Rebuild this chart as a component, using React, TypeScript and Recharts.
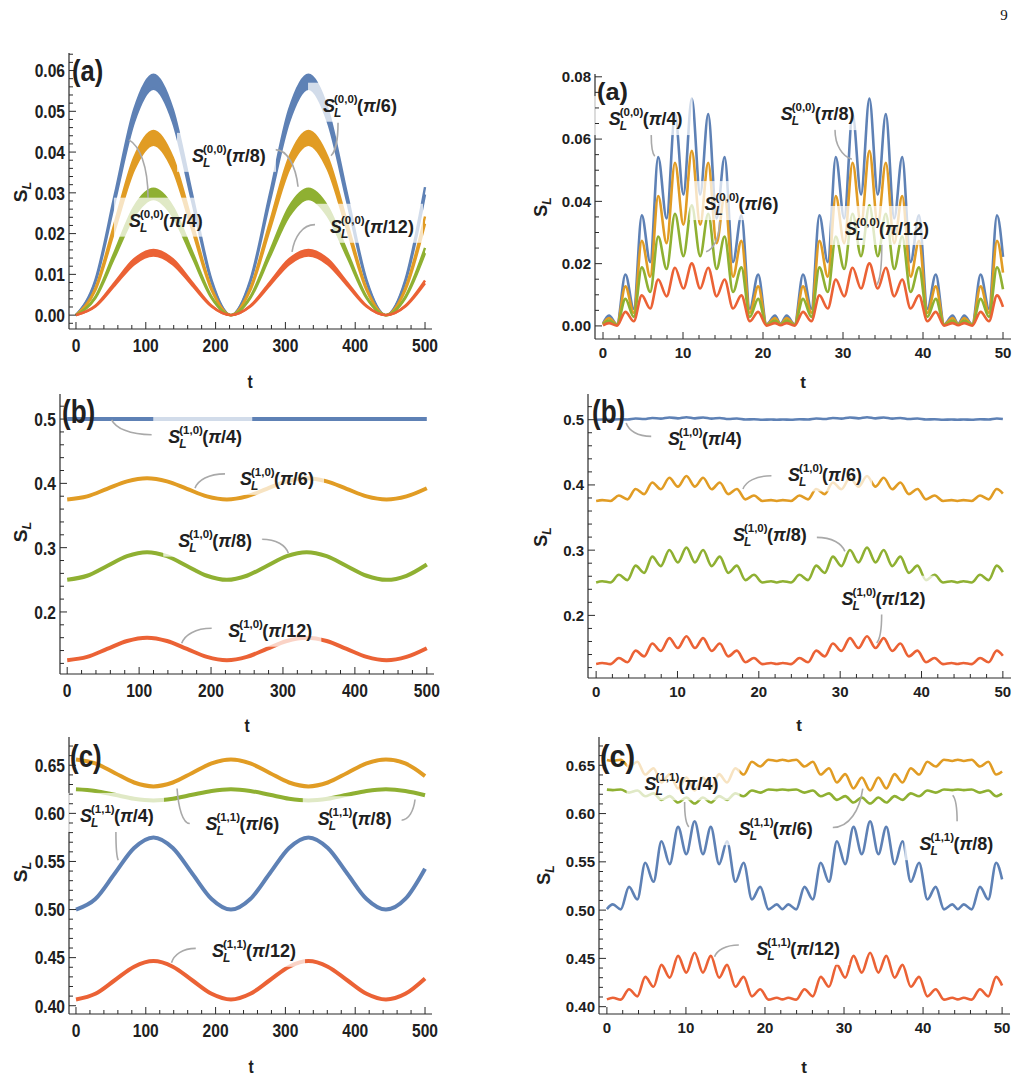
import React from 'react';
import { ComposedChart, Line, Area, XAxis, YAxis, ReferenceDot, ReferenceLine } from 'recharts';

const SANS = '"Liberation Sans", Arial, Helvetica, sans-serif';
const INK = '#202020';
const FRAME = '#2a2a2a';
const LEADER = '#a9a9a9';

type Key = 'pi4' | 'pi6' | 'pi8' | 'pi12';
const ORDER: Key[] = ['pi4', 'pi6', 'pi8', 'pi12'];
const COLOR: Record<Key, string> = { pi4: '#5E81B5', pi6: '#E19C24', pi8: '#8FB032', pi12: '#EB6235' };
const DENOM: Record<Key, string> = { pi4: '4', pi6: '6', pi8: '8', pi12: '12' };

// long-time window, t = 0..500
const tLong = [0, 27.75, 55.5, 83.25, 111, 138.75, 166.5, 194.25, 222, 249.75, 277.5, 305.25, 333, 360.75, 388.5, 416.25, 444, 471.75, 500];

// S^(0,0): thick bands (upper / lower edge of the fast wobble)
const s00LongPi4Hi = [0, 0.0086, 0.0295, 0.0504, 0.059, 0.0504, 0.0295, 0.0086, 0, 0.0086, 0.0295, 0.0504, 0.059, 0.0504, 0.0295, 0.0086, 0, 0.0086, 0.0314];
const s00LongPi4Lo = [0, 0.0081, 0.0278, 0.0474, 0.0555, 0.0474, 0.0278, 0.0081, 0, 0.0081, 0.0278, 0.0474, 0.0555, 0.0474, 0.0278, 0.0081, 0, 0.0081, 0.0296];
const s00LongPi6Hi = [0, 0.0066, 0.0226, 0.0386, 0.0452, 0.0386, 0.0226, 0.0066, 0, 0.0066, 0.0226, 0.0386, 0.0452, 0.0386, 0.0226, 0.0066, 0, 0.0066, 0.0242];
const s00LongPi6Lo = [0, 0.0061, 0.0209, 0.0357, 0.0418, 0.0357, 0.0209, 0.0061, 0, 0.0061, 0.0209, 0.0357, 0.0418, 0.0357, 0.0209, 0.0061, 0, 0.0061, 0.0224];
const s00LongPi8Hi = [0, 0.0045, 0.0155, 0.0265, 0.031, 0.0265, 0.0155, 0.0045, 0, 0.0045, 0.0155, 0.0265, 0.031, 0.0265, 0.0155, 0.0045, 0, 0.0045, 0.0165];
const s00LongPi8Lo = [0, 0.0042, 0.0143, 0.0243, 0.0285, 0.0243, 0.0143, 0.0042, 0, 0.0042, 0.0143, 0.0243, 0.0285, 0.0243, 0.0143, 0.0042, 0, 0.0042, 0.0152];
const s00LongPi12Hi = [0, 0.0023, 0.008, 0.0137, 0.016, 0.0137, 0.008, 0.0023, 0, 0.0023, 0.008, 0.0137, 0.016, 0.0137, 0.008, 0.0023, 0, 0.0023, 0.0085];
const s00LongPi12Lo = [0, 0.0021, 0.0073, 0.0125, 0.0146, 0.0125, 0.0073, 0.0021, 0, 0.0021, 0.0073, 0.0125, 0.0146, 0.0125, 0.0073, 0.0021, 0, 0.0021, 0.0078];

// S^(1,0), long times
const s10LongPi4 = [0.5, 0.5, 0.5, 0.5, 0.5, 0.5, 0.5, 0.5, 0.5, 0.5, 0.5, 0.5, 0.5, 0.5, 0.5, 0.5, 0.5, 0.5, 0.5];
const s10LongPi6 = [0.375, 0.3798, 0.3915, 0.4032, 0.408, 0.4032, 0.3915, 0.3798, 0.375, 0.3798, 0.3915, 0.4032, 0.408, 0.4032, 0.3915, 0.3798, 0.375, 0.3798, 0.3925];
const s10LongPi8 = [0.25, 0.2563, 0.2715, 0.2867, 0.293, 0.2867, 0.2715, 0.2563, 0.25, 0.2563, 0.2715, 0.2867, 0.293, 0.2867, 0.2715, 0.2563, 0.25, 0.2563, 0.2738];
const s10LongPi12 = [0.125, 0.1301, 0.1425, 0.1549, 0.16, 0.1549, 0.1425, 0.1301, 0.125, 0.1301, 0.1425, 0.1549, 0.16, 0.1549, 0.1425, 0.1301, 0.125, 0.1301, 0.1436];

// S^(1,1), long times
const s11LongPi4 = [0.5, 0.511, 0.5375, 0.564, 0.575, 0.564, 0.5375, 0.511, 0.5, 0.511, 0.5375, 0.564, 0.575, 0.564, 0.5375, 0.511, 0.5, 0.511, 0.5425];
const s11LongPi6 = [0.656, 0.6519, 0.642, 0.6321, 0.628, 0.6321, 0.642, 0.6519, 0.656, 0.6519, 0.642, 0.6321, 0.628, 0.6321, 0.642, 0.6519, 0.656, 0.6519, 0.6388];
const s11LongPi8 = [0.625, 0.6233, 0.6193, 0.6152, 0.6135, 0.6152, 0.6193, 0.6233, 0.625, 0.6233, 0.6193, 0.6152, 0.6135, 0.6152, 0.6193, 0.6233, 0.625, 0.6233, 0.6188];
const s11LongPi12 = [0.4065, 0.4124, 0.4265, 0.4406, 0.4465, 0.4406, 0.4265, 0.4124, 0.4065, 0.4124, 0.4265, 0.4406, 0.4465, 0.4406, 0.4265, 0.4124, 0.4065, 0.4124, 0.4284];

// short-time window, t = 0..50 (turning points of the fast wobble)
const tShort = [
  0, 0.75, 1.75, 2.8, 3.85, 4.85, 5.9, 6.9, 7.95, 9.0, 10.05, 11.1, 12.15, 13.15, 14.2, 15.2, 16.25, 17.3, 18.35, 19.4, 20.45, 21.5, 22.2,
  22.95, 23.95, 25.0, 26.05, 27.05, 28.1, 29.1, 30.15, 31.2, 32.25, 33.3, 34.35, 35.35, 36.4, 37.4, 38.45, 39.5, 40.55, 41.6, 42.65, 43.7, 44.4,
  45.15, 46.15, 47.2, 48.25, 49.25, 50,
];

const s00ShortPi4 = [
  0.0008, 0.0033, 0.0005, 0.0165, 0.0055, 0.0355, 0.0205, 0.0542, 0.0345, 0.068, 0.0422, 0.073, 0.0422, 0.068, 0.0345, 0.0542, 0.0205, 0.0355, 0.0055, 0.0165, 0.0005, 0.0033, 0.0007,
  0.0033, 0.0005, 0.0165, 0.0055, 0.0355, 0.0205, 0.0542, 0.0345, 0.068, 0.0422, 0.073, 0.0422, 0.068, 0.0345, 0.0542, 0.0205, 0.0355, 0.0055, 0.0165, 0.0005, 0.0033, 0.0007,
  0.0033, 0.0005, 0.0165, 0.0055, 0.0355, 0.0222,
];
const s00ShortPi6 = [
  0.0006, 0.0025, 0.0004, 0.0127, 0.0042, 0.0273, 0.0158, 0.0417, 0.0266, 0.0524, 0.0325, 0.0562, 0.0325, 0.0524, 0.0266, 0.0417, 0.0158, 0.0273, 0.0042, 0.0127, 0.0004, 0.0025, 0.0005,
  0.0025, 0.0004, 0.0127, 0.0042, 0.0273, 0.0158, 0.0417, 0.0266, 0.0524, 0.0325, 0.0562, 0.0325, 0.0524, 0.0266, 0.0417, 0.0158, 0.0273, 0.0042, 0.0127, 0.0004, 0.0025, 0.0005,
  0.0025, 0.0004, 0.0127, 0.0042, 0.0273, 0.0171,
];
const s00ShortPi8 = [
  0.0004, 0.0017, 0.0003, 0.0087, 0.0029, 0.0188, 0.0109, 0.0287, 0.0183, 0.036, 0.0224, 0.0387, 0.0224, 0.036, 0.0183, 0.0287, 0.0109, 0.0188, 0.0029, 0.0087, 0.0003, 0.0017, 0.0004,
  0.0017, 0.0003, 0.0087, 0.0029, 0.0188, 0.0109, 0.0287, 0.0183, 0.036, 0.0224, 0.0387, 0.0224, 0.036, 0.0183, 0.0287, 0.0109, 0.0188, 0.0029, 0.0087, 0.0003, 0.0017, 0.0004,
  0.0017, 0.0003, 0.0087, 0.0029, 0.0188, 0.0118,
];
const s00ShortPi12 = [
  0.0002, 0.0009, 0.0001, 0.0045, 0.0015, 0.0098, 0.0056, 0.0149, 0.0095, 0.0187, 0.012, 0.0201, 0.012, 0.0187, 0.0095, 0.0149, 0.0056, 0.0098, 0.0015, 0.0045, 0.0001, 0.0009, 0.0002,
  0.0009, 0.0001, 0.0045, 0.0015, 0.0098, 0.0056, 0.0149, 0.0095, 0.0187, 0.012, 0.0201, 0.012, 0.0187, 0.0095, 0.0149, 0.0056, 0.0098, 0.0015, 0.0045, 0.0001, 0.0009, 0.0002,
  0.0009, 0.0001, 0.0045, 0.0015, 0.0098, 0.0061,
];

const s10ShortPi4 = [
  0.5, 0.5002, 0.5, 0.5008, 0.5003, 0.5018, 0.501, 0.5027, 0.5017, 0.5034, 0.5021, 0.5037, 0.5021, 0.5034, 0.5017, 0.5027, 0.501, 0.5018, 0.5003, 0.5008, 0.5, 0.5002, 0.5,
  0.5002, 0.5, 0.5008, 0.5003, 0.5018, 0.501, 0.5027, 0.5017, 0.5034, 0.5021, 0.5037, 0.5021, 0.5034, 0.5017, 0.5027, 0.501, 0.5018, 0.5003, 0.5008, 0.5, 0.5002, 0.5,
  0.5002, 0.5, 0.5008, 0.5003, 0.5018, 0.5011,
];
const s10ShortPi6 = [
  0.3754, 0.3767, 0.3753, 0.3837, 0.3779, 0.3938, 0.3859, 0.4037, 0.3933, 0.411, 0.3974, 0.4137, 0.3974, 0.411, 0.3933, 0.4037, 0.3859, 0.3938, 0.3779, 0.3837, 0.3753, 0.3767, 0.3754,
  0.3767, 0.3753, 0.3837, 0.3779, 0.3938, 0.3859, 0.4037, 0.3933, 0.411, 0.3974, 0.4137, 0.3974, 0.411, 0.3933, 0.4037, 0.3859, 0.3938, 0.3779, 0.3837, 0.3753, 0.3767, 0.3754,
  0.3767, 0.3753, 0.3837, 0.3779, 0.3938, 0.3868,
];
const s10ShortPi8 = [
  0.2506, 0.2524, 0.2504, 0.2622, 0.2541, 0.2763, 0.2652, 0.2901, 0.2755, 0.3003, 0.2812, 0.304, 0.2812, 0.3003, 0.2755, 0.2901, 0.2652, 0.2763, 0.2541, 0.2622, 0.2504, 0.2524, 0.2505,
  0.2524, 0.2504, 0.2622, 0.2541, 0.2763, 0.2652, 0.2901, 0.2755, 0.3003, 0.2812, 0.304, 0.2812, 0.3003, 0.2755, 0.2901, 0.2652, 0.2763, 0.2541, 0.2622, 0.2504, 0.2524, 0.2505,
  0.2524, 0.2504, 0.2622, 0.2541, 0.2763, 0.2664,
];
const s10ShortPi12 = [
  0.1255, 0.1269, 0.1253, 0.1347, 0.1282, 0.1459, 0.1371, 0.157, 0.1454, 0.1651, 0.1499, 0.1681, 0.1499, 0.1651, 0.1454, 0.157, 0.1371, 0.1459, 0.1282, 0.1347, 0.1253, 0.1269, 0.1254,
  0.1269, 0.1253, 0.1347, 0.1282, 0.1459, 0.1371, 0.157, 0.1454, 0.1651, 0.1499, 0.1681, 0.1499, 0.1651, 0.1454, 0.157, 0.1371, 0.1459, 0.1282, 0.1347, 0.1253, 0.1269, 0.1254,
  0.1269, 0.1253, 0.1347, 0.1282, 0.1459, 0.1381,
];

const s11ShortPi4 = [
  0.5011, 0.5059, 0.5008, 0.5241, 0.5111, 0.549, 0.5293, 0.5714, 0.5476, 0.5862, 0.558, 0.5921, 0.558, 0.5862, 0.5476, 0.5714, 0.5293, 0.549, 0.5111, 0.5241, 0.5008, 0.5059, 0.501,
  0.5059, 0.5008, 0.5241, 0.5111, 0.549, 0.5293, 0.5714, 0.5476, 0.5862, 0.558, 0.5921, 0.558, 0.5862, 0.5476, 0.5714, 0.5293, 0.549, 0.5111, 0.5241, 0.5008, 0.5059, 0.501,
  0.5059, 0.5008, 0.5241, 0.5111, 0.549, 0.5318,
];
const s11ShortPi6 = [
  0.6556, 0.6545, 0.6558, 0.6487, 0.6536, 0.6404, 0.647, 0.6322, 0.6408, 0.6261, 0.6374, 0.6239, 0.6374, 0.6261, 0.6408, 0.6322, 0.647, 0.6404, 0.6536, 0.6487, 0.6558, 0.6545, 0.6557,
  0.6545, 0.6558, 0.6487, 0.6536, 0.6404, 0.647, 0.6322, 0.6408, 0.6261, 0.6374, 0.6239, 0.6374, 0.6261, 0.6408, 0.6322, 0.647, 0.6404, 0.6536, 0.6487, 0.6558, 0.6545, 0.6557,
  0.6545, 0.6558, 0.6487, 0.6536, 0.6404, 0.6435,
];
const s11ShortPi8 = [
  0.6248, 0.6243, 0.6249, 0.6217, 0.6239, 0.6179, 0.6209, 0.6142, 0.6181, 0.6114, 0.6166, 0.6104, 0.6166, 0.6114, 0.6181, 0.6142, 0.6209, 0.6179, 0.6239, 0.6217, 0.6249, 0.6243, 0.6249,
  0.6243, 0.6249, 0.6217, 0.6239, 0.6179, 0.6209, 0.6142, 0.6181, 0.6114, 0.6166, 0.6104, 0.6166, 0.6114, 0.6181, 0.6142, 0.6209, 0.6179, 0.6239, 0.6217, 0.6249, 0.6243, 0.6249,
  0.6243, 0.6249, 0.6217, 0.6239, 0.6179, 0.6206,
];
const s11ShortPi12 = [
  0.4075, 0.4092, 0.4073, 0.4181, 0.4107, 0.4308, 0.4207, 0.4433, 0.4301, 0.4526, 0.4353, 0.4559, 0.4353, 0.4526, 0.4301, 0.4433, 0.4207, 0.4308, 0.4107, 0.4181, 0.4073, 0.4092, 0.4075,
  0.4092, 0.4073, 0.4181, 0.4107, 0.4308, 0.4207, 0.4433, 0.4301, 0.4526, 0.4353, 0.4559, 0.4353, 0.4526, 0.4301, 0.4433, 0.4207, 0.4308, 0.4107, 0.4181, 0.4073, 0.4092, 0.4075,
  0.4092, 0.4073, 0.4181, 0.4107, 0.4308, 0.4219,
];

// tick labels
const longTicks = [0, 100, 200, 300, 400, 500];
const shortTicks = [0, 10, 20, 30, 40, 50];
const yTicksLongA = [0, 0.01, 0.02, 0.03, 0.04, 0.05, 0.06];
const yTicksShortA = [0, 0.02, 0.04, 0.06, 0.08];
const yTicksB = [0.2, 0.3, 0.4, 0.5];
const yTicksC = [0.4, 0.45, 0.5, 0.55, 0.6, 0.65];

const rowsLongA = tLong.map((t, i) => ({
  t,
  pi4: [s00LongPi4Lo[i], s00LongPi4Hi[i]],
  pi6: [s00LongPi6Lo[i], s00LongPi6Hi[i]],
  pi8: [s00LongPi8Lo[i], s00LongPi8Hi[i]],
  pi12: [s00LongPi12Lo[i], s00LongPi12Hi[i]],
}));
const rowsLongB = tLong.map((t, i) => ({ t, pi4: s10LongPi4[i], pi6: s10LongPi6[i], pi8: s10LongPi8[i], pi12: s10LongPi12[i] }));
const rowsLongC = tLong.map((t, i) => ({ t, pi4: s11LongPi4[i], pi6: s11LongPi6[i], pi8: s11LongPi8[i], pi12: s11LongPi12[i] }));
const rowsShortA = tShort.map((t, i) => ({ t, pi4: s00ShortPi4[i], pi6: s00ShortPi6[i], pi8: s00ShortPi8[i], pi12: s00ShortPi12[i] }));
const rowsShortB = tShort.map((t, i) => ({ t, pi4: s10ShortPi4[i], pi6: s10ShortPi6[i], pi8: s10ShortPi8[i], pi12: s10ShortPi12[i] }));
const rowsShortC = tShort.map((t, i) => ({ t, pi4: s11ShortPi4[i], pi6: s11ShortPi6[i], pi8: s11ShortPi8[i], pi12: s11ShortPi12[i] }));

interface Callout {
  key: Key;
  at: [number, number];
  from: [number, number];
  to: [number, number];
  bend: 'h' | 'v';
  box?: [number, number, number, number] | null; // backdrop relative to the label anchor
}

interface PanelSpec {
  id: string;
  letter: string;
  sup: string;
  frame: [number, number, number, number];
  xDomain: [number, number];
  yDomain: [number, number];
  xMajor: number[];
  xMinor: number;
  yMajor: number[];
  yMinor: number;
  yDigits: number;
  rows: any[];
  band: boolean;
  stroke: number;
  tickFont: number;
  sx: number;
  letterAt: [number, number, number, number];
  tAt: [number, number, number];
  sAt: [number, number, number];
  callouts: Callout[];
}

const LEFT_X: [number, number] = [-10, 510];
const RIGHT_X: [number, number] = [-1, 51];

const PANELS: PanelSpec[] = [
  {
    id: 'la', letter: '(a)', sup: '(0,0)', frame: [69, 53, 363, 276], xDomain: LEFT_X, yDomain: [-0.0034, 0.0643],
    xMajor: longTicks, xMinor: 20, yMajor: yTicksLongA, yMinor: 0.002, yDigits: 2, rows: rowsLongA, band: true, stroke: 2.4,
    tickFont: 19, sx: 0.82, letterAt: [72, 80.5, 30, 0.85], tAt: [250, 388, 19], sAt: [21, 192, 19],
    callouts: [
      { key: 'pi4', at: [75.9, 0.0217], from: [103.2, 0.0288], to: [75.9, 0.043], bend: 'v' },
      { key: 'pi8', at: [166.2, 0.0376], from: [285.1, 0.0406], to: [318.1, 0.0315], bend: 'h' },
      { key: 'pi6', at: [353.9, 0.0499], from: [375.4, 0.0472], to: [365.3, 0.0391], bend: 'v' },
      { key: 'pi12', at: [363.9, 0.0202], from: [342.4, 0.0222], to: [309.5, 0.0155], bend: 'h' },
    ],
  },
  {
    id: 'ra', letter: '(a)', sup: '(0,0)', frame: [595, 74, 416, 265], xDomain: RIGHT_X, yDomain: [-0.0042, 0.0809],
    xMajor: shortTicks, xMinor: 2, yMajor: yTicksShortA, yMinor: 0.005, yDigits: 2, rows: rowsShortA, band: false, stroke: 2.6,
    tickFont: 15, sx: 1, letterAt: [597, 100, 23, 1.1], tAt: [803, 388, 17], sAt: [541, 207, 18],
    callouts: [
      { key: 'pi4', at: [0.71, 0.0645], from: [6.03, 0.0613], to: [6.47, 0.0545], bend: 'v' },
      { key: 'pi8', at: [22.21, 0.0661], from: [29.0, 0.0631], to: [31.1, 0.0535], bend: 'v' },
      { key: 'pi6', at: [12.69, 0.0372], from: [14.57, 0.0335], to: [12.89, 0.0238], bend: 'v' },
      { key: 'pi12', at: [30.26, 0.0292], from: [34.85, 0.0263], to: [34.23, 0.0132], bend: 'v' },
    ],
  },
  {
    id: 'lb', letter: '(b)', sup: '(1,0)', frame: [60, 394, 374, 280], xDomain: LEFT_X, yDomain: [0.1035, 0.539],
    xMajor: longTicks, xMinor: 20, yMajor: yTicksB, yMinor: 0.02, yDigits: 1, rows: rowsLongB, band: false, stroke: 4,
    tickFont: 19, sx: 0.82, letterAt: [62, 423, 33, 0.79], tAt: [247, 731.5, 19], sAt: [21, 532, 19],
    callouts: [
      { key: 'pi4', at: [140.5, 0.4626], from: [117.4, 0.4756], to: [61.8, 0.4989], bend: 'h' },
      { key: 'pi6', at: [240.3, 0.3977], from: [219.4, 0.4148], to: [177.7, 0.3926], bend: 'h' },
      { key: 'pi8', at: [154.4, 0.3016], from: [270.5, 0.3132], to: [307.5, 0.2914], bend: 'h' },
      { key: 'pi12', at: [224.0, 0.1615], from: [200.9, 0.1746], to: [159.2, 0.1513], bend: 'h' },
    ],
  },
  {
    id: 'rb', letter: '(b)', sup: '(1,0)', frame: [588, 394, 423, 284], xDomain: RIGHT_X, yDomain: [0.104, 0.5394],
    xMajor: shortTicks, xMinor: 2, yMajor: yTicksB, yMinor: 0.02, yDigits: 1, rows: rowsShortB, band: false, stroke: 2.6,
    tickFont: 15, sx: 1, letterAt: [592, 423, 33, 0.79], tAt: [799, 730.5, 17], sAt: [541, 537, 18],
    callouts: [
      { key: 'pi4', at: [8.82, 0.4617], from: [6.77, 0.4744], to: [3.69, 0.4949], bend: 'h', box: null },
      { key: 'pi6', at: [23.6, 0.4054], from: [21.55, 0.4141], to: [18.05, 0.3938], bend: 'h' },
      { key: 'pi8', at: [16.82, 0.3134], from: [27.09, 0.3196], to: [30.58, 0.2981], bend: 'h' },
      { key: 'pi12', at: [30.17, 0.2164], from: [35.1, 0.2021], to: [34.48, 0.1577], bend: 'v' },
    ],
  },
  {
    id: 'lc', letter: '(c)', sup: '(1,1)', frame: [69, 737, 363, 277], xDomain: LEFT_X, yDomain: [0.3914, 0.6794],
    xMajor: longTicks, xMinor: 20, yMajor: yTicksC, yMinor: 0.01, yDigits: 2, rows: rowsLongC, band: false, stroke: 4,
    tickFont: 19, sx: 0.82, letterAt: [70, 766.5, 32, 0.81], tAt: [251, 1072.5, 19], sAt: [21, 872, 19],
    callouts: [
      { key: 'pi4', at: [5.72, 0.5911], from: [57.2, 0.5807], to: [60.5, 0.5513], bend: 'v' },
      { key: 'pi6', at: [185.4, 0.5825], from: [163.0, 0.5894], to: [144.8, 0.6258], bend: 'h' },
      { key: 'pi8', at: [346.4, 0.5877], from: [465.7, 0.5929], to: [485.7, 0.6144], bend: 'h' },
      { key: 'pi12', at: [194.9, 0.4509], from: [171.6, 0.4596], to: [136.8, 0.4447], bend: 'h' },
    ],
  },
  {
    id: 'rc', letter: '(c)', sup: '(1,1)', frame: [599, 737, 411, 277], xDomain: RIGHT_X, yDomain: [0.3924, 0.6793],
    xMajor: shortTicks, xMinor: 2, yMajor: yTicksC, yMinor: 0.01, yDigits: 2, rows: rowsShortC, band: false, stroke: 2.6,
    tickFont: 15, sx: 1, letterAt: [600, 766.5, 32, 0.9], tAt: [804, 1072.5, 17], sAt: [544, 875, 18],
    callouts: [
      { key: 'pi4', at: [4.77, 0.6241], from: [9.83, 0.612], to: [10.37, 0.5862], bend: 'v', box: [-18, -44, 113, 54] },
      { key: 'pi6', at: [16.69, 0.5776], from: [28.58, 0.5856], to: [32.37, 0.6259], bend: 'h' },
      { key: 'pi8', at: [39.54, 0.5621], from: [44.31, 0.5914], to: [43.75, 0.619], bend: 'v' },
      { key: 'pi12', at: [18.89, 0.4535], from: [16.69, 0.4638], to: [13.62, 0.4517], bend: 'h' },
    ],
  },
];

function SqText({ x, y, sx = 1, size, anchor = 'start', children }: any) {
  return (
    <g transform={`translate(${x} ${y}) scale(${sx} 1)`}>
      <text x={0} y={0} textAnchor={anchor} fontSize={size} fontWeight="bold" fontFamily={SANS} fill={INK}>
        {children}
      </text>
    </g>
  );
}

const stepTicks = (lo: number, hi: number, step: number) => {
  const out: number[] = [];
  for (let k = Math.ceil(lo / step - 1e-9); k * step <= hi + 1e-9; k++) out.push(+(k * step).toFixed(6));
  return out;
};

type Side = 'bottom' | 'top' | 'left' | 'right';

// frame ticks point inward; only bottom and left carry numbers
function makeTick(side: Side, majors: number[], fmt: (v: number) => string, font: number, sx: number) {
  return function FrameTick(props: any) {
    const { x, y, payload } = props;
    const v = Number(payload?.value);
    const major = majors.some((m) => Math.abs(m - v) < 1e-7);
    const len = major ? 7 : 4;
    const d = side === 'bottom' ? [0, -len] : side === 'top' ? [0, len] : side === 'left' ? [len, 0] : [-len, 0];
    return (
      <g>
        <line x1={x} y1={y} x2={x + d[0]} y2={y + d[1]} stroke={FRAME} strokeWidth={1} />
        {major && side === 'bottom' && (
          <SqText x={x} y={y + 5 + font * 0.95} size={font} sx={sx} anchor="middle">{fmt(v)}</SqText>
        )}
        {major && side === 'left' && (
          <SqText x={x - 4} y={y + font * 0.36} size={font} sx={sx} anchor="end">{fmt(v)}</SqText>
        )}
      </g>
    );
  };
}

function Leader({ x1, y1, x2, y2, bend }: any) {
  const lerp = (a: number, b: number, k: number) => a + (b - a) * k;
  const d =
    bend === 'h'
      ? `M${x1},${y1} C${lerp(x1, x2, 0.55)},${y1} ${x2 + (x1 - x2) * 0.1},${lerp(y1, y2, 0.45)} ${x2},${y2}`
      : `M${x1},${y1} C${x1},${lerp(y1, y2, 0.55)} ${lerp(x1, x2, 0.45)},${y2 + (y1 - y2) * 0.1} ${x2},${y2}`;
  return <path d={d} fill="none" stroke={LEADER} strokeWidth={1.6} />;
}

function CalloutLabel({ cx, cy, sup, n, box }: any) {
  const argW = n === '12' ? 44 : 35;
  const w = 34 + argW;
  const b = box === undefined ? [-15, -29, w + 30, 39] : box;
  return (
    <g fontFamily={SANS} fontWeight="bold" fill={INK}>
      {b && <rect x={cx + b[0]} y={cy + b[1]} width={b[2]} height={b[3]} fill="#fff" fillOpacity={0.72} />}
      <text x={cx} y={cy} fontSize={18} fontStyle="italic">S</text>
      <text x={cx + 11} y={cy + 5} fontSize={12} fontStyle="italic">L</text>
      <text x={cx + 11} y={cy - 9} fontSize={11.5}>{sup}</text>
      <text x={cx + 34} y={cy} fontSize={18}>
        (<tspan fontStyle="italic">π</tspan>/{n})
      </text>
    </g>
  );
}

function Panel({ spec }: { spec: PanelSpec }) {
  const [left, top, w, h] = spec.frame;
  const W = w + 70;
  const H = h + 50;
  const xTicks = stepTicks(spec.xDomain[0], spec.xDomain[1], spec.xMinor);
  const yTicks = stepTicks(spec.yDomain[0], spec.yDomain[1], spec.yMinor);
  const xFmt = (v: number) => String(Math.round(v));
  const yFmt = (v: number) => v.toFixed(spec.yDigits);
  const axisLine = { stroke: FRAME, strokeWidth: 1.2 };
  const common = {
    type: 'number' as const,
    allowDataOverflow: true,
    interval: 0 as const,
    tickSize: 0,
    tickMargin: 0,
    tickLine: false,
    axisLine,
  };

  return (
    <div style={{ position: 'absolute', left: left - 60, top: top - 10, width: W, height: H }}>
      <ComposedChart width={W} height={H} data={spec.rows} margin={{ top: 10, right: 10, bottom: 0, left: 0 }}>
        <XAxis {...common} dataKey="t" domain={spec.xDomain} ticks={xTicks} height={40}
          tick={makeTick('bottom', spec.xMajor, xFmt, spec.tickFont, spec.sx)} />
        <XAxis {...common} xAxisId="top" orientation="top" dataKey="t" domain={spec.xDomain} ticks={xTicks} height={0}
          tick={makeTick('top', spec.xMajor, xFmt, spec.tickFont, spec.sx)} />
        <YAxis {...common} domain={spec.yDomain} ticks={yTicks} width={60}
          tick={makeTick('left', spec.yMajor, yFmt, spec.tickFont, spec.sx)} />
        <YAxis {...common} yAxisId="right" orientation="right" domain={spec.yDomain} ticks={yTicks} width={0}
          tick={makeTick('right', spec.yMajor, yFmt, spec.tickFont, spec.sx)} />

        {ORDER.map((k) =>
          spec.band ? (
            <Area key={k} type="monotone" dataKey={k} stroke={COLOR[k]} strokeWidth={spec.stroke} fill={COLOR[k]}
              fillOpacity={1} dot={false} activeDot={false} isAnimationActive={false} />
          ) : (
            <Line key={k} type="monotone" dataKey={k} stroke={COLOR[k]} strokeWidth={spec.stroke}
              dot={false} activeDot={false} isAnimationActive={false} />
          ),
        )}

        {spec.callouts.map((c, i) => (
          <ReferenceLine key={`lead-${i}`} ifOverflow="visible"
            segment={[{ x: c.from[0], y: c.from[1] }, { x: c.to[0], y: c.to[1] }]}
            shape={(p: any) => <Leader x1={p.x1} y1={p.y1} x2={p.x2} y2={p.y2} bend={c.bend} />} />
        ))}
        {spec.callouts.map((c, i) => (
          <ReferenceDot key={`lab-${i}`} x={c.at[0]} y={c.at[1]} r={1} ifOverflow="visible"
            shape={(p: any) => <CalloutLabel cx={p.cx} cy={p.cy} sup={spec.sup} n={DENOM[c.key]} box={c.box} />} />
        ))}
      </ComposedChart>
    </div>
  );
}

export default function App() {
  return (
    <div style={{ position: 'absolute', left: 0, top: 0, width: 1023, height: 1079, background: '#fff', overflow: 'hidden' }}>
      {PANELS.map((p) => (
        <Panel key={p.id} spec={p} />
      ))}
      <svg width={1023} height={1079} style={{ position: 'absolute', left: 0, top: 0, pointerEvents: 'none' }}>
        <text x={1004} y={20} textAnchor="middle" fontSize={15} fontFamily='"Liberation Serif", serif' fill="#111">9</text>
        {PANELS.map((p) => (
          <g key={p.id}>
            <SqText x={p.letterAt[0]} y={p.letterAt[1]} size={p.letterAt[2]} sx={p.letterAt[3]}>{p.letter}</SqText>
            <SqText x={p.tAt[0]} y={p.tAt[1]} size={p.tAt[2]} sx={p.sx} anchor="middle">t</SqText>
            <g transform={`translate(${p.sAt[0]} ${p.sAt[1]}) rotate(-90)`}>
              <text x={0} y={6} textAnchor="middle" fontFamily={SANS} fontWeight="bold" fill={INK} fontSize={p.sAt[2]}>
                S<tspan fontSize={p.sAt[2] * 0.68} fontStyle="italic" dy={4}>L</tspan>
              </text>
            </g>
          </g>
        ))}
      </svg>
    </div>
  );
}
